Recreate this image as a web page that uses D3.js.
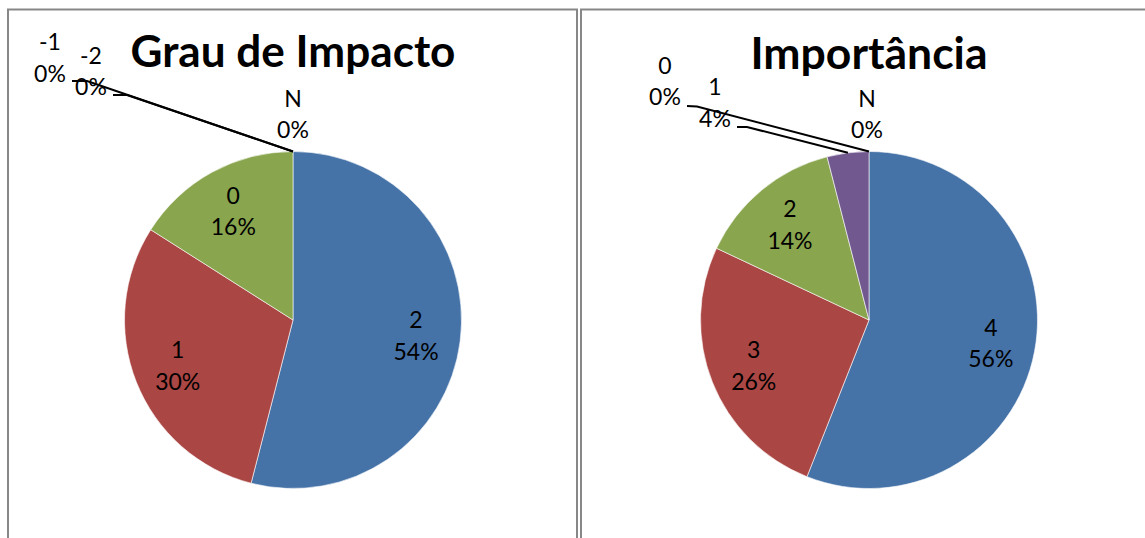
<!DOCTYPE html>
<html>
<head>
<meta charset="utf-8">
<script src="https://cdn.jsdelivr.net/npm/d3@7"></script>
<style>
  html, body { margin: 0; padding: 0; background: #fff; }
  svg { display: block; }
  text { font-family: Lato, "Open Sans", sans-serif; fill: #000; }
</style>
</head>
<body>
<svg id="chart" width="1145" height="538"></svg>
<script>
// Survey answers (percent of respondents), two pies side by side
const impactTitle = "Grau de Impacto";
const impactCategories = ["2", "1", "0", "-1", "-2", "N"];
const impactValues = [54, 30, 16, 0, 0, 0];

const importanceTitle = "Importância";
const importanceCategories = ["4", "3", "2", "1", "0", "N"];
const importanceValues = [56, 26, 14, 4, 0, 0];

const sliceColors = ["#4572A7", "#AA4643", "#89A54E", "#71588F", "#4198AF", "#DB843D"];

const svg = d3.select("#chart");

// Panel frames
const frames = [
  { x: 8, y: 9.5, w: 569, h: 600 },
  { x: 581, y: 9.5, w: 600, h: 600 }
];
svg.selectAll("rect.frame").data(frames).join("rect")
  .attr("class", "frame")
  .attr("x", d => d.x).attr("y", d => d.y)
  .attr("width", d => d.w).attr("height", d => d.h)
  .attr("fill", "none").attr("stroke", "#878787").attr("stroke-width", 2);

const radius = 168.5;
const labelRadius = 124;
const lineGap = 31.6;

// Placement of the callout labels for the thin slices
const impactCallouts = {
  "-1": { x: 50, y: 50, leader: [[72, 81], [87, 81]] },
  "-2": { x: 91, y: 63.5, leader: [[113, 95], [127, 95]] },
  "N":  { x: 293, y: 106.5, leader: null }
};
const importanceCallouts = {
  "1": { x: 715, y: 95, leader: [[737, 127], [747, 127]] },
  "0": { x: 665, y: 73.5, leader: [[687, 106], [697, 106.5]] },
  "N": { x: 867, y: 106.5, leader: null }
};

function drawPie(opts) {
  const { cx, cy, title, titleBaseline, titleWidth, categories, values, callouts } = opts;
  const g = svg.append("g").attr("transform", `translate(${cx},${cy})`);
  const total = d3.sum(values);
  const rows = categories.map((c, i) => ({ cat: c, value: values[i], color: sliceColors[i] }));

  const pie = d3.pie().sort(null).value(d => d.value);
  const arcs = pie(rows);
  const arc = d3.arc().innerRadius(0).outerRadius(radius);
  const edge = d3.arc().innerRadius(radius).outerRadius(radius);
  const inner = d3.arc().innerRadius(labelRadius).outerRadius(labelRadius);

  g.selectAll("path.slice").data(arcs.filter(a => a.data.value > 0)).join("path")
    .attr("class", "slice")
    .attr("d", arc)
    .attr("fill", d => d.data.color)
    .attr("stroke", "#ffffff").attr("stroke-width", 0.6);

  const pct = d => Math.round(d.data.value / total * 100) + "%";

  // Leader lines for callout labels
  arcs.forEach(a => {
    const c = callouts[a.data.cat];
    if (!c || !c.leader) return;
    const end = edge.centroid(a);
    const pts = c.leader.map(p => [p[0] - cx, p[1] - cy]).concat([end]);
    g.append("path")
      .attr("d", d3.line()(pts))
      .attr("fill", "none").attr("stroke", "#000").attr("stroke-width", 2);
  });

  // Labels
  arcs.forEach(a => {
    const c = callouts[a.data.cat];
    let x, y;
    if (c) { x = c.x - cx; y = c.y - cy; }
    else { const p = inner.centroid(a); x = p[0]; y = p[1] - 7.5; }
    const t = g.append("text").attr("text-anchor", "middle").style("font-size", "23px");
    t.append("tspan").attr("x", x).attr("y", y).text(a.data.cat);
    t.append("tspan").attr("x", x).attr("y", y + lineGap).text(pct(a));
  });

  // Title, sized to its measured width
  const tt = svg.append("text")
    .attr("x", cx).attr("y", titleBaseline)
    .attr("text-anchor", "middle")
    .style("font-weight", "bold").style("font-size", "100px")
    .text(title);
  const w = tt.node().getComputedTextLength();
  tt.style("font-size", (100 * titleWidth / w) + "px");
}

drawPie({
  cx: 293, cy: 320, title: impactTitle, titleBaseline: 67, titleWidth: 325,
  categories: impactCategories, values: impactValues, callouts: impactCallouts
});
drawPie({
  cx: 869, cy: 320, title: importanceTitle, titleBaseline: 69, titleWidth: 237,
  categories: importanceCategories, values: importanceValues, callouts: importanceCallouts
});
</script>
</body>
</html>
